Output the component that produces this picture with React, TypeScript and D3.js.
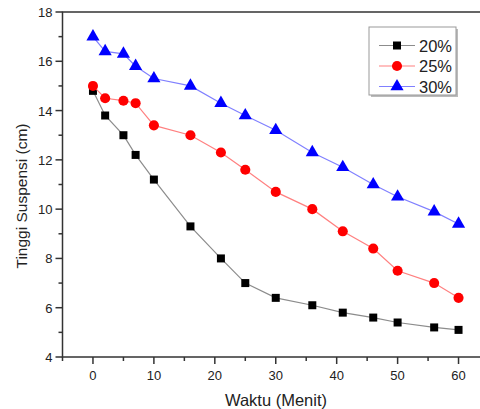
import React from "react";
import * as d3 from "d3";

const times = [0, 2, 5, 7, 10, 16, 21, 25, 30, 36, 41, 46, 50, 56, 60];
const s20 = [14.8, 13.8, 13.0, 12.2, 11.2, 9.3, 8.0, 7.0, 6.4, 6.1, 5.8, 5.6, 5.4, 5.2, 5.1];
const s25 = [15.0, 14.5, 14.4, 14.3, 13.4, 13.0, 12.3, 11.6, 10.7, 10.0, 9.1, 8.4, 7.5, 7.0, 6.4];
const s30 = [17.0, 16.4, 16.3, 15.8, 15.3, 15.0, 14.3, 13.8, 13.2, 12.3, 11.7, 11.0, 10.5, 9.9, 9.4];
const seriesNames = ["20%", "25%", "30%"];
const xTicks = [0, 10, 20, 30, 40, 50, 60];
const yTicks = [4, 6, 8, 10, 12, 14, 16, 18];

const width = 480;
const height = 409;
const font = "'Liberation Sans', Arial, sans-serif";

export default function App() {
  const x = d3.scaleLinear().domain([-5, 65]).range([62.5, 489]);
  const y = d3.scaleLinear().domain([4, 18]).range([357, 12]);

  const series = [
    { name: seriesNames[0], vals: s20, marker: "#000", line: "#8c8c8c", shape: "square" },
    { name: seriesNames[1], vals: s25, marker: "#ff0000", line: "#ff8080", shape: "circle" },
    { name: seriesNames[2], vals: s30, marker: "#0000ff", line: "#8080ff", shape: "triangle" },
  ];

  const line = d3
    .line<number>()
    .x((_, i) => x(times[i]))
    .y((d) => y(d));

  const sym = (shape: string) =>
    d3
      .symbol()
      .type(shape === "square" ? d3.symbolSquare : shape === "circle" ? d3.symbolCircle : d3.symbolTriangle)
      .size(shape === "square" ? 64 : shape === "circle" ? 80 : 75)();

  const minorX = d3.range(-5, 66, 5).filter((v) => v % 10 !== 0);
  const minorY = d3.range(5, 18, 2);
  const axisColor = "#333";

  return (
    <svg
      width={width}
      height={height}
      style={{ position: "absolute", left: 0, top: 0, background: "#fff" }}
      fontFamily={font}
    >
      {/* frame */}
      <rect x={x(-5)} y={y(18)} width={x(65) - x(-5)} height={y(4) - y(18)} fill="none" stroke={axisColor} strokeWidth={1.5} />

      {/* x ticks */}
      {xTicks.map((t) => (
        <g key={"xt" + t}>
          <line x1={x(t)} x2={x(t)} y1={y(4)} y2={y(4) + 7} stroke={axisColor} strokeWidth={1.5} />
          <text x={x(t)} y={y(4) + 23} textAnchor="middle" fontSize={13} fill="#222">
            {t}
          </text>
        </g>
      ))}
      {minorX.map((t) => (
        <line key={"xm" + t} x1={x(t)} x2={x(t)} y1={y(4)} y2={y(4) + 4} stroke={axisColor} strokeWidth={1.5} />
      ))}

      {/* y ticks */}
      {yTicks.map((t) => (
        <g key={"yt" + t}>
          <line x1={x(-5) - 7} x2={x(-5)} y1={y(t)} y2={y(t)} stroke={axisColor} strokeWidth={1.5} />
          <text x={x(-5) - 10} y={y(t) + 5} textAnchor="end" fontSize={13} fill="#222">
            {t}
          </text>
        </g>
      ))}
      {minorY.map((t) => (
        <line key={"ym" + t} x1={x(-5) - 4} x2={x(-5)} y1={y(t)} y2={y(t)} stroke={axisColor} strokeWidth={1.5} />
      ))}

      {/* axis titles */}
      <text x={276} y={406} textAnchor="middle" fontSize={16.5} fill="#222">
        Waktu (Menit)
      </text>
      <text
        transform={`translate(27, 196) rotate(-90)`}
        textAnchor="middle"
        fontSize={15.5}
        fill="#222"
      >
        Tinggi Suspensi (cm)
      </text>

      {/* series */}
      {series.map((s) => (
        <g key={s.name}>
          <path d={line(s.vals) || ""} fill="none" stroke={s.line} strokeWidth={1.2} />
          {s.vals.map((v, i) => (
            <path
              key={i}
              d={sym(s.shape)}
              transform={`translate(${x(times[i])}, ${y(v)})`}
              fill={s.marker}
            />
          ))}
        </g>
      ))}

      {/* legend */}
      <g>
        <rect x={371} y={29} width={87} height={68} fill="#bbb" />
        <rect x={369} y={27} width={87} height={68} fill="#fff" stroke="#999" strokeWidth={1} />
        {series.map((s, i) => {
          const ly = 45.5 + i * 20.5;
          return (
            <g key={"lg" + s.name}>
              <line x1={379} x2={415} y1={ly} y2={ly} stroke={s.line} strokeWidth={1.2} />
              <path d={sym(s.shape)} transform={`translate(397, ${ly})`} fill={s.marker} />
              <text x={419} y={ly + 6} fontSize={16.5} fill="#222">
                {s.name}
              </text>
            </g>
          );
        })}
      </g>
    </svg>
  );
}
